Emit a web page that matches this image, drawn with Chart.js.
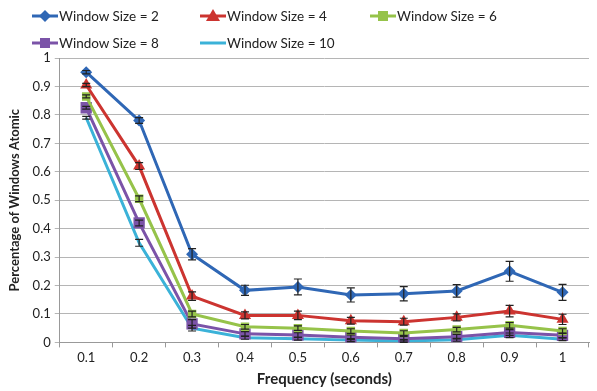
<!DOCTYPE html>
<html>
<head>
  <meta charset="UTF-8" />
  <title>Percentage of Windows Atomic</title>
  <script src="https://cdn.jsdelivr.net/npm/chart.js@4/dist/chart.umd.min.js"></script>
  <style>
    body { margin: 0; background: #fff; }
    #wrap { position: relative; width: 597px; height: 391px; }
    #legend { position: absolute; left: 0; top: 0; width: 597px; height: 56px; font-family: Lato, "Open Sans", sans-serif; font-size: 13.5px; color: #222; }
    .item { position: absolute; display: flex; align-items: center; height: 18px; }
    .item svg { margin-right: 1px; }
  </style>
</head>
<body>
  <div id="wrap">
    <canvas id="chart" width="597" height="391"></canvas>
    <div id="legend"></div>
  </div>

  <script>
    // 数据
    const frequencies = ["0.1", "0.2", "0.3", "0.4", "0.5", "0.6", "0.7", "0.8", "0.9", "1"];
    const seriesNames = ["Window Size = 2", "Window Size = 4", "Window Size = 6", "Window Size = 8", "Window Size = 10"];

    const size2 = [0.95, 0.78, 0.31, 0.183, 0.195, 0.167, 0.171, 0.181, 0.25, 0.176];
    const size4 = [0.905, 0.62, 0.163, 0.095, 0.095, 0.076, 0.073, 0.088, 0.11, 0.081];
    const size6 = [0.865, 0.505, 0.10, 0.055, 0.05, 0.04, 0.033, 0.045, 0.06, 0.04];
    const size8 = [0.825, 0.42, 0.065, 0.03, 0.026, 0.018, 0.013, 0.02, 0.035, 0.025];
    const size10 = [0.79, 0.35, 0.05, 0.016, 0.013, 0.008, 0.005, 0.009, 0.025, 0.011];

    // 误差条（半宽）
    const err2 = [0.006, 0.01, 0.02, 0.018, 0.028, 0.025, 0.025, 0.022, 0.035, 0.028];
    const err4 = [0.006, 0.012, 0.015, 0.012, 0.015, 0.012, 0.012, 0.012, 0.02, 0.018];
    const err6 = [0.005, 0.01, 0.01, 0.008, 0.008, 0.008, 0.008, 0.008, 0.01, 0.008];
    const err8 = [0.005, 0.01, 0.015, 0.008, 0.008, 0.008, 0.008, 0.008, 0.01, 0.008];
    const err10 = [0.005, 0.012, 0.01, 0.005, 0.005, 0.005, 0.005, 0.005, 0.008, 0.005];

    const yTicks = [0, 0.1, 0.2, 0.3, 0.4, 0.5, 0.6, 0.7, 0.8, 0.9, 1];

    const colors = ["#2f67b5", "#cc3430", "#96c34a", "#7b53a8", "#3bb2d8"];
    const markers = ["rectRot", "triangle", "rect", "rect", false];
    const radii = [6, 7, 6, 8, 0];
    const values = [size2, size4, size6, size8, size10];
    const errors = [err2, err4, err6, err8, err10];

    const datasets = seriesNames.map((name, i) => ({
      label: name,
      data: values[i],
      errors: errors[i],
      borderColor: colors[i],
      backgroundColor: colors[i],
      borderWidth: 3,
      pointStyle: markers[i],
      pointRadius: radii[i],
      pointHoverRadius: radii[i],
      pointBorderWidth: 0,
      tension: 0
    }));

    // 误差条插件
    const errorBars = {
      id: "errorBars",
      afterDatasetsDraw(chart) {
        const ctx = chart.ctx;
        const x = chart.scales.x, y = chart.scales.y;
        ctx.save();
        ctx.strokeStyle = "#222";
        ctx.lineWidth = 1.2;
        chart.data.datasets.forEach(ds => {
          ds.data.forEach((v, j) => {
            const px = x.getPixelForValue(j);
            const top = y.getPixelForValue(v + ds.errors[j]);
            const bot = y.getPixelForValue(Math.max(0, v - ds.errors[j]));
            ctx.beginPath();
            ctx.moveTo(px, top); ctx.lineTo(px, bot);
            ctx.moveTo(px - 4, top); ctx.lineTo(px + 4, top);
            ctx.moveTo(px - 4, bot); ctx.lineTo(px + 4, bot);
            ctx.stroke();
          });
        });
        ctx.restore();
      }
    };

    new Chart(document.getElementById("chart"), {
      type: "line",
      data: { labels: frequencies, datasets },
      plugins: [errorBars],
      options: {
        responsive: false,
        animation: false,
        layout: { padding: { top: 58, right: 2, left: 7, bottom: 3 } },
        plugins: { legend: { display: false }, tooltip: { enabled: false } },
        scales: {
          x: {
            offset: true,
            grid: { offset: true, drawOnChartArea: false, drawTicks: true, tickLength: 5, color: "#999" },
            border: { color: "#999", width: 1 },
            ticks: { color: "#222", font: { family: "Lato", size: 13 }, padding: 3, maxRotation: 0 },
            title: { display: true, text: "Frequency (seconds)", color: "#222", font: { family: "Lato", size: 15, weight: "bold" }, padding: { top: 1, bottom: 0 } }
          },
          y: {
            min: 0, max: 1,
            afterBuildTicks(axis) { axis.ticks = yTicks.map(v => ({ value: v })); },
            grid: { color: "#b5b5b5", tickLength: 5 },
            border: { color: "#999", width: 1 },
            ticks: { color: "#222", font: { family: "Lato", size: 13 }, padding: 4, callback: v => String(v) },
            title: { display: true, text: "Percentage of Windows Atomic", color: "#222", font: { family: "Lato", size: 13, weight: "bold" }, padding: { top: 0, bottom: 6 } }
          }
        }
      }
    });

    // 图例（HTML）
    const legendPos = [[32, 7], [200, 7], [370, 7], [32, 34], [200, 34]];
    const legend = document.getElementById("legend");
    seriesNames.forEach((name, i) => {
      const c = colors[i];
      let mark = "";
      if (markers[i] === "rectRot") mark = `<polygon points="13,3 19,9 13,15 7,9" fill="${c}"/>`;
      if (markers[i] === "triangle") mark = `<polygon points="13,2 20,14 6,14" fill="${c}"/>`;
      if (markers[i] === "rect") mark = `<rect x="8" y="4" width="10" height="10" fill="${c}"/>`;
      const el = document.createElement("div");
      el.className = "item";
      el.style.left = legendPos[i][0] + "px";
      el.style.top = legendPos[i][1] + "px";
      el.innerHTML = `<svg width="26" height="18"><line x1="0" y1="9" x2="26" y2="9" stroke="${c}" stroke-width="3"/>${mark}</svg><span>${name}</span>`;
      legend.appendChild(el);
    });
  </script>
</body>
</html>
